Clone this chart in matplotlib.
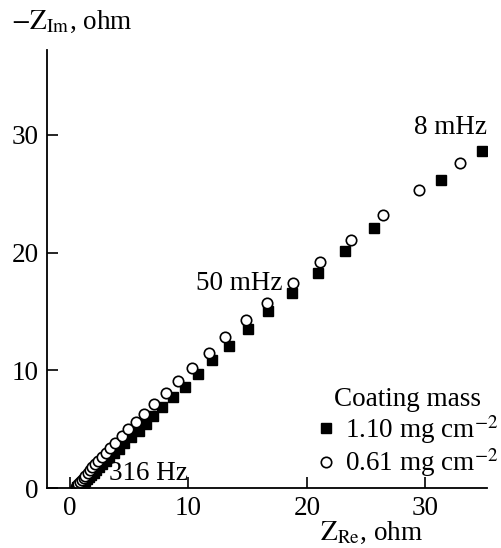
import numpy as np
import matplotlib
matplotlib.use("Agg")
import matplotlib.pyplot as plt

plt.rcParams['font.family'] = ['Liberation Serif', 'DejaVu Serif']
plt.rcParams['mathtext.fontset'] = 'stix'

# Nyquist data, 1.10 mg cm-2 (filled squares)
re_110 = [0.6, 0.7, 0.8, 0.9, 1.0, 1.15, 1.3, 1.45, 1.6, 1.8, 2.0, 2.2, 2.45,
          2.7, 3.0, 3.3, 3.7, 4.1, 4.6, 5.15, 5.8, 6.4, 7.0, 7.8, 8.7, 9.7,
          10.8, 12.0, 13.4, 15.05, 16.7, 18.7, 20.9, 23.2, 25.7, 31.3, 34.8]
im_110 = [0.05, 0.1, 0.15, 0.25, 0.35, 0.45, 0.6, 0.75, 0.9, 1.1, 1.3, 1.5, 1.75,
          2.0, 2.3, 2.6, 2.95, 3.35, 3.8, 4.3, 4.8, 5.4, 6.1, 6.85, 7.7, 8.6,
          9.7, 10.9, 12.05, 13.5, 15.0, 16.6, 18.3, 20.1, 22.1, 26.2, 28.6]

# Nyquist data, 0.61 mg cm-2 (open circles)
re_061 = [0.5, 0.6, 0.7, 0.85, 1.0, 1.15, 1.3, 1.5, 1.7, 1.9, 2.15, 2.4, 2.7,
          3.0, 3.4, 3.8, 4.4, 4.9, 5.6, 6.25, 7.1, 8.1, 9.1, 10.3, 11.7, 13.1,
          14.85, 16.65, 18.8, 21.1, 23.7, 26.4, 29.5, 32.9]
im_061 = [0.1, 0.2, 0.35, 0.5, 0.65, 0.85, 1.05, 1.25, 1.5, 1.75, 2.0, 2.3, 2.65,
          3.0, 3.4, 3.85, 4.4, 5.0, 5.6, 6.3, 7.1, 8.1, 9.1, 10.2, 11.5, 12.8,
          14.3, 15.7, 17.4, 19.2, 21.1, 23.2, 25.3, 27.6]

FS = 19.5

fig = plt.figure(figsize=(5.01, 5.48), dpi=100)
ax = fig.add_axes([47/501, 60/548, 440/501, 438/548])

ax.plot(re_110, im_110, 's', color='black', markersize=6.5, linestyle='none',
        label='1.10 mg cm$^{-2}$')
ax.plot(re_061, im_061, 'o', markerfacecolor='white', markeredgecolor='black',
        markeredgewidth=1.2, markersize=7.5, linestyle='none',
        label='0.61 mg cm$^{-2}$')

ax.set_xlim(-1.94, 35.2)
ax.set_ylim(0, 37.2)
ax.set_xticks([0, 10, 20, 30])
ax.set_yticks([0, 10, 20, 30])
for s in ['top', 'right']:
    ax.spines[s].set_visible(False)
for s in ['left', 'bottom']:
    ax.spines[s].set_linewidth(1.3)
ax.tick_params(direction='in', length=8, width=1.2, labelsize=FS, pad=6)

ax.text(35.2, 30.6, '8 mHz', ha='right', va='center', fontsize=FS)
ax.text(17.9, 17.4, '50 mHz', ha='right', va='center', fontsize=FS)
ax.text(3.3, 1.2, '316 Hz', ha='left', va='center', fontsize=FS)

fig.text(11/501, 1 - 22/548, r'$\mathrm{-Z_{Im}}$, ohm', ha='left', va='center', fontsize=FS)
fig.text(320/501, 2/548, r'$\mathrm{Z_{Re}}$, ohm', ha='left', va='bottom', fontsize=FS)

leg = ax.legend(loc='lower right', bbox_to_anchor=(1.05, -0.005), frameon=False,
                title='Coating mass', fontsize=FS, title_fontsize=FS,
                handlelength=0.6, handletextpad=0.4, borderpad=0.2,
                labelspacing=0.02, borderaxespad=0.2)

fig.savefig('out.png', dpi=100)
